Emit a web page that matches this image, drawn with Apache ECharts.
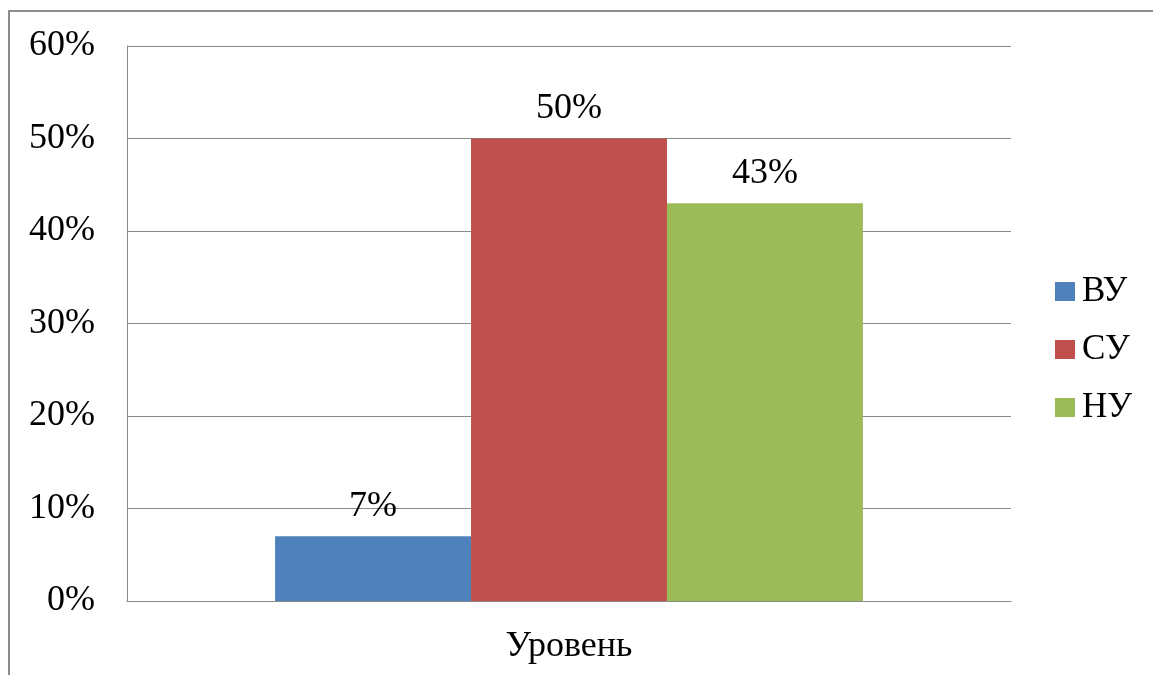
<!DOCTYPE html>
<html>
<head>
<meta charset="utf-8">
<script src="https://cdn.jsdelivr.net/npm/echarts@6/dist/echarts.min.js"></script>
<style>
  html, body { margin: 0; padding: 0; background: #fff; }
  #chart { width: 1153px; height: 675px; }
</style>
</head>
<body>
<div id="chart"></div>
<script>
// Category and levels
const categories = ['Уровень'];
const seriesNames = ['ВУ', 'СУ', 'НУ'];
const seriesValues = [[7], [50], [43]];
const seriesColors = ['#4F81BD', '#C0504D', '#9BBB59'];

const FONT = '"Liberation Serif", "Times New Roman", serif';

const chart = echarts.init(document.getElementById('chart'), null, { renderer: 'canvas' });

const series = seriesNames.map((name, i) => ({
  name: name,
  type: 'bar',
  data: seriesValues[i],
  barGap: '0%',
  barCategoryGap: '33.5%',
  itemStyle: { color: seriesColors[i] },
  label: {
    show: true,
    position: 'top',
    distance: 12,
    formatter: '{c}%',
    color: '#000',
    fontFamily: FONT,
    fontSize: 36
  }
}));

chart.setOption({
  animation: false,
  backgroundColor: '#fff',
  graphic: [{
    type: 'rect',
    shape: { x: 9, y: 11, width: 1200, height: 700 },
    style: { fill: 'none', stroke: '#8c8c8c', lineWidth: 2 },
    z: 100
  }],
  grid: { left: 127, top: 46, right: 142, bottom: 74, containLabel: false },
  legend: {
    orient: 'vertical',
    left: 1055,
    top: 274,
    padding: 0,
    itemWidth: 20,
    itemHeight: 19,
    itemGap: 23,
    icon: 'rect',
    data: seriesNames,
    textStyle: { fontFamily: FONT, fontSize: 35, color: '#000', padding: [0, 0, 0, 2] }
  },
  xAxis: {
    type: 'category',
    data: categories,
    axisLine: { show: true, lineStyle: { color: '#888', width: 1 } },
    axisTick: { show: false },
    axisLabel: { fontFamily: FONT, fontSize: 36, color: '#000', margin: 28 },
    splitLine: { show: false }
  },
  yAxis: {
    type: 'value',
    min: 0,
    max: 60,
    interval: 10,
    axisLine: { show: true, lineStyle: { color: '#888', width: 1 } },
    axisTick: { show: false },
    axisLabel: { formatter: '{value}%', fontFamily: FONT, fontSize: 36, color: '#000', margin: 32 },
    splitLine: { show: true, lineStyle: { color: '#888', width: 1 } }
  },
  series: series
});
</script>
</body>
</html>
